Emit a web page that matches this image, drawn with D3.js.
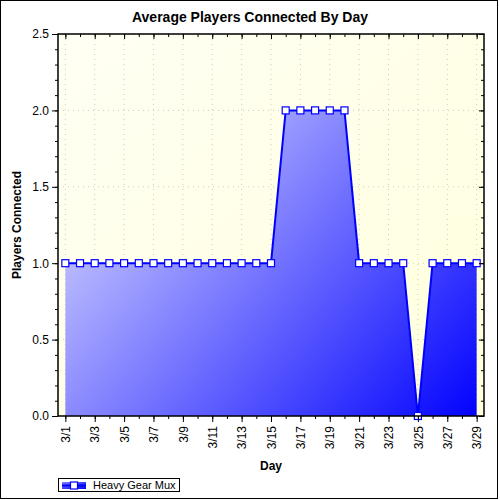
<!DOCTYPE html>
<html>
<head>
<meta charset="utf-8">
<script src="https://cdn.jsdelivr.net/npm/d3@7"></script>
<style>
    body { margin: 0; background: #fff; }
    svg text { font-family: "Liberation Sans", Arial, sans-serif; }
</style>
</head>
<body>
<div id="chart"></div>
<script>

// data
let dayLabels = ["3/1","3/2","3/3","3/4","3/5","3/6","3/7","3/8","3/9","3/10",
    "3/11","3/12","3/13","3/14","3/15","3/16","3/17","3/18","3/19","3/20",
    "3/21","3/22","3/23","3/24","3/25","3/26","3/27","3/28","3/29"];
let playersConnected = [1,1,1,1,1,1,1,1,1,1,1,1,1,1,1,2,2,2,2,2,1,1,1,1,0,1,1,1,1];
let yTickValues = [0, 0.5, 1.0, 1.5, 2.0, 2.5];
let seriesName = "Heavy Gear Mux";


class AreaChart {

    constructor(parentElement, labels, values) {
        this.parentElement = parentElement;
        this.labels = labels;
        this.values = values;

        this.initVis()
    }

    initVis() {
        let vis = this;

        vis.margin = {top: 34, right: 16, bottom: 84, left: 58};
        vis.width = 500 - vis.margin.left - vis.margin.right;
        vis.height = 500 - vis.margin.top - vis.margin.bottom;

        vis.root = d3.select("#" + vis.parentElement).append("svg")
            .attr("width", 500)
            .attr("height", 500);

        // outer frame
        vis.root.append("rect")
            .attr("x", 0.5).attr("y", 0.5)
            .attr("width", 497).attr("height", 498)
            .attr("fill", "#fff")
            .attr("stroke", "#000");

        let defs = vis.root.append("defs");

        let bg = defs.append("linearGradient")
            .attr("id", "bgGrad")
            .attr("x1", "0%").attr("y1", "0%")
            .attr("x2", "100%").attr("y2", "100%");
        bg.append("stop").attr("offset", "0%").attr("stop-color", "#fffff4");
        bg.append("stop").attr("offset", "100%").attr("stop-color", "#ffffdc");

        let fill = defs.append("linearGradient")
            .attr("id", "areaGrad")
            .attr("gradientUnits", "userSpaceOnUse")
            .attr("x1", 0).attr("y1", 0)
            .attr("x2", vis.width).attr("y2", vis.height);
        fill.append("stop").attr("offset", "0%").attr("stop-color", "#ffffff");
        fill.append("stop").attr("offset", "100%").attr("stop-color", "#0000ff");

        let legGrad = defs.append("linearGradient")
            .attr("id", "legGrad")
            .attr("x1", "0%").attr("y1", "0%")
            .attr("x2", "100%").attr("y2", "100%");
        legGrad.append("stop").attr("offset", "0%").attr("stop-color", "#8080ff");
        legGrad.append("stop").attr("offset", "100%").attr("stop-color", "#0000ff");

        vis.svg = vis.root.append("g")
            .attr("transform", "translate(" + vis.margin.left + "," + vis.margin.top + ")");

        // title
        vis.root.append("text")
            .text("Average Players Connected By Day")
            .attr("x", 250)
            .attr("y", 22)
            .attr("text-anchor", "middle")
            .attr("font-size", 14)
            .attr("font-weight", "bold");

        // scales
        vis.x = d3.scalePoint()
            .domain(vis.labels)
            .range([0, vis.width])
            .padding(0.5);

        vis.y = d3.scaleLinear()
            .domain([0, 2.5])
            .range([vis.height, 0]);

        // plot background
        vis.svg.append("rect")
            .attr("width", vis.width)
            .attr("height", vis.height)
            .attr("fill", "url(#bgGrad)");

        vis.majorDays = vis.labels.filter((d, i) => i % 2 === 0);
        vis.minorY = d3.range(0, 26).map(d => d / 10);

        // grid
        vis.svg.append("g")
            .selectAll("line.vgrid")
            .data(vis.majorDays)
            .enter().append("line")
            .attr("x1", d => vis.x(d)).attr("x2", d => vis.x(d))
            .attr("y1", 0).attr("y2", vis.height)
            .attr("stroke", "#cccccc")
            .attr("stroke-dasharray", "1,4");

        vis.svg.append("g")
            .selectAll("line.hgrid")
            .data(yTickValues)
            .enter().append("line")
            .attr("x1", 0).attr("x2", vis.width)
            .attr("y1", d => vis.y(d)).attr("y2", d => vis.y(d))
            .attr("stroke", "#cccccc")
            .attr("stroke-dasharray", "1,4");

        vis.wrangleData();
    }

    wrangleData() {
        let vis = this;

        vis.displayData = vis.labels.map((d, i) => ({day: d, value: vis.values[i]}));

        vis.updateVis();
    }

    updateVis() {
        let vis = this;

        let area = d3.area()
            .x(d => vis.x(d.day))
            .y0(vis.height)
            .y1(d => vis.y(d.value));

        let line = d3.line()
            .x(d => vis.x(d.day))
            .y(d => vis.y(d.value));

        vis.svg.append("path")
            .datum(vis.displayData)
            .attr("d", area)
            .attr("fill", "url(#areaGrad)");

        vis.svg.append("path")
            .datum(vis.displayData)
            .attr("d", line)
            .attr("fill", "none")
            .attr("stroke", "#0000ff")
            .attr("stroke-width", 2);

        vis.svg.selectAll(".marker")
            .data(vis.displayData)
            .enter().append("rect")
            .attr("class", "marker")
            .attr("x", d => vis.x(d.day) - 3.5)
            .attr("y", d => vis.y(d.value) - 3.5)
            .attr("width", 7)
            .attr("height", 7)
            .attr("fill", "#fff")
            .attr("stroke", "#0000ff")
            .attr("stroke-width", 1.2);

        // axes
        let axisStyle = g => {
            g.select(".domain").remove();
            g.selectAll("line").attr("stroke", "#000");
        };

        // bottom: minor then major
        vis.svg.append("g")
            .attr("transform", "translate(0," + vis.height + ")")
            .call(d3.axisBottom(vis.x).tickSize(3).tickFormat(""))
            .call(axisStyle);

        vis.svg.append("g")
            .attr("transform", "translate(0," + vis.height + ")")
            .call(d3.axisBottom(vis.x).tickValues(vis.majorDays).tickSize(6).tickPadding(4))
            .call(axisStyle)
            .selectAll("text")
            .attr("font-size", 12)
            .attr("fill", "#000")
            .attr("text-anchor", "end")
            .attr("dy", "0.35em")
            .attr("transform", "translate(0,6) rotate(-90)")
            .attr("x", -4)
            .attr("y", 0);

        // top: inward ticks
        vis.svg.append("g")
            .call(d3.axisTop(vis.x).tickSize(-3).tickFormat(""))
            .call(axisStyle);
        vis.svg.append("g")
            .call(d3.axisTop(vis.x).tickValues(vis.majorDays).tickSize(-5).tickFormat(""))
            .call(axisStyle);

        // left
        vis.svg.append("g")
            .call(d3.axisLeft(vis.y).tickValues(vis.minorY).tickSize(3).tickFormat(""))
            .call(axisStyle);
        vis.svg.append("g")
            .call(d3.axisLeft(vis.y).tickValues(yTickValues).tickSize(6).tickPadding(3).tickFormat(d3.format(".1f")))
            .call(axisStyle)
            .selectAll("text")
            .attr("font-size", 12)
            .attr("fill", "#000");

        // right: inward ticks
        vis.svg.append("g")
            .attr("transform", "translate(" + vis.width + ",0)")
            .call(d3.axisRight(vis.y).tickValues(vis.minorY).tickSize(-3).tickFormat(""))
            .call(axisStyle);
        vis.svg.append("g")
            .attr("transform", "translate(" + vis.width + ",0)")
            .call(d3.axisRight(vis.y).tickValues(yTickValues).tickSize(-5).tickFormat(""))
            .call(axisStyle);

        // plot frame
        vis.svg.append("rect")
            .attr("width", vis.width)
            .attr("height", vis.height)
            .attr("fill", "none")
            .attr("stroke", "#000")
            .attr("stroke-width", 1.5);

        // axis titles
        vis.svg.append("text")
            .text("Day")
            .attr("x", vis.width / 2)
            .attr("y", vis.height + 54)
            .attr("text-anchor", "middle")
            .attr("font-size", 12)
            .attr("font-weight", "bold");

        vis.root.append("text")
            .text("Players Connected")
            .attr("transform", "translate(21," + (vis.margin.top + vis.height / 2) + ") rotate(-90)")
            .attr("text-anchor", "middle")
            .attr("font-size", 12)
            .attr("font-weight", "bold");

        // legend
        vis.legend = vis.root.append("g")
            .attr("transform", "translate(58,478)");

        vis.legend.append("rect")
            .attr("x", 0.5).attr("y", 0.5)
            .attr("width", 121).attr("height", 13)
            .attr("fill", "#fff")
            .attr("stroke", "#000");
        vis.legend.append("rect")
            .attr("x", 4).attr("y", 4)
            .attr("width", 24).attr("height", 7)
            .attr("fill", "url(#legGrad)");
        vis.legend.append("line")
            .attr("x1", 4).attr("x2", 28)
            .attr("y1", 7.5).attr("y2", 7.5)
            .attr("stroke", "#0000ff")
            .attr("stroke-width", 2);
        vis.legend.append("rect")
            .attr("x", 12.5).attr("y", 4)
            .attr("width", 7).attr("height", 7)
            .attr("fill", "#fff")
            .attr("stroke", "#0000ff")
            .attr("stroke-width", 1.2);
        vis.legend.append("text")
            .text(seriesName)
            .attr("x", 35)
            .attr("y", 11)
            .attr("font-size", 11)
            .attr("fill", "#000");
    }
}

new AreaChart("chart", dayLabels, playersConnected);

</script>
</body>
</html>
